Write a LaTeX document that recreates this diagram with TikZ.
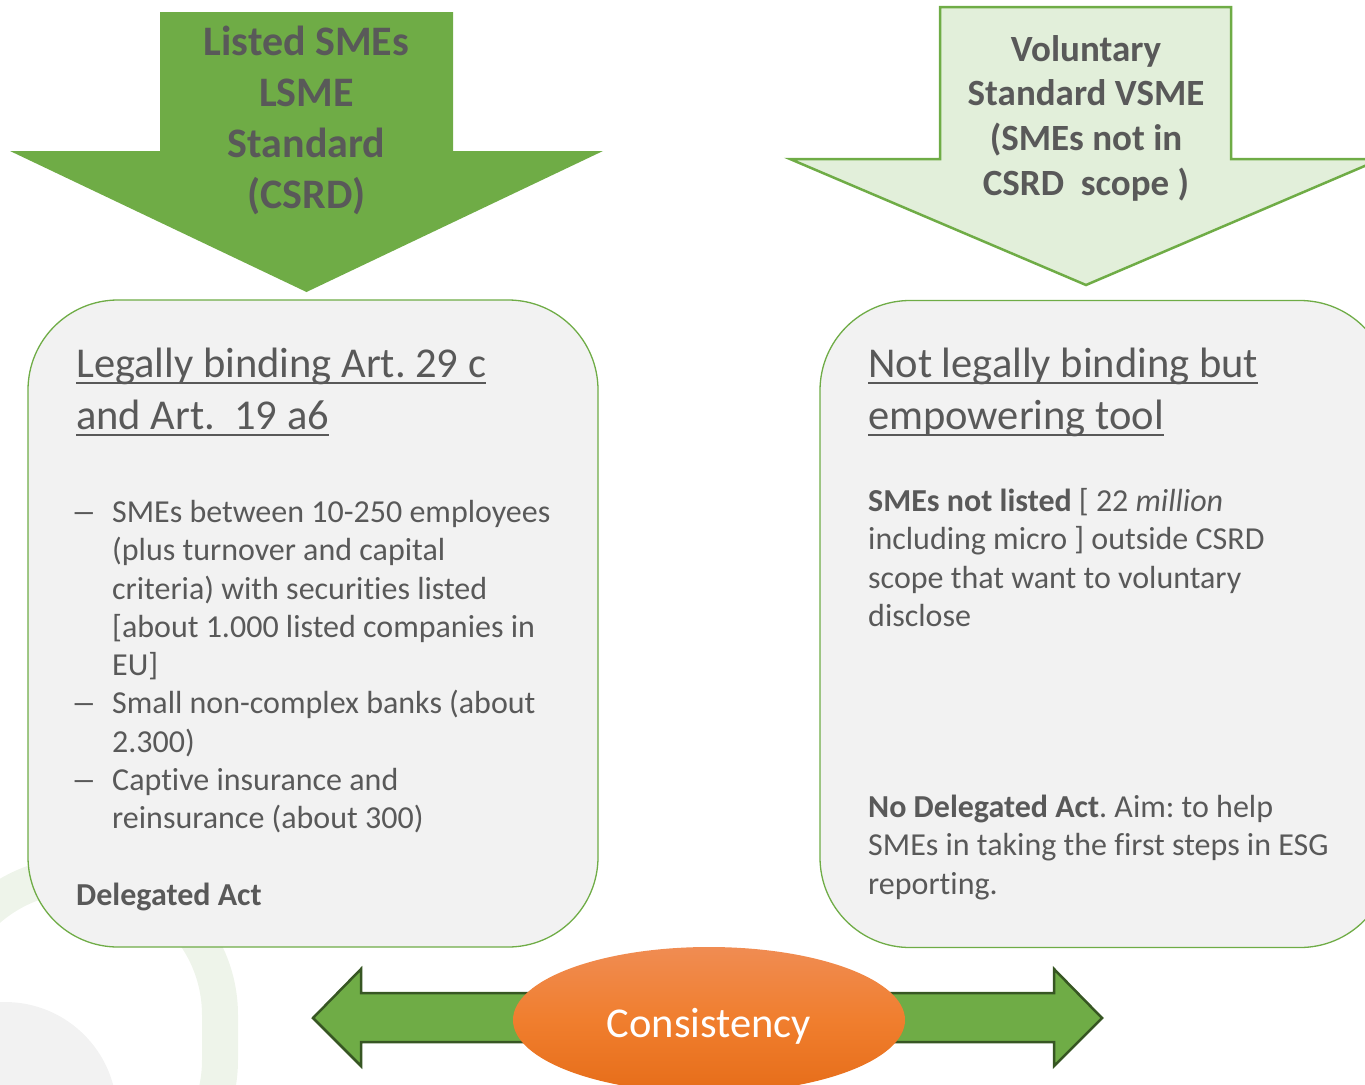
\documentclass[tikz,border=0pt]{standalone}
\usepackage{fontspec}
\setmainfont{Carlito}[Ligatures={NoCommon}]
\usetikzlibrary{shapes.geometric}
\definecolor{txt}{HTML}{595959}
\definecolor{grn}{HTML}{6FAC46}
\definecolor{dgrn}{HTML}{375623}
\definecolor{lgrn}{HTML}{E2EFDA}
\definecolor{boxfill}{HTML}{F2F2F2}
\definecolor{band}{HTML}{EEF4EA}
\definecolor{ortop}{HTML}{F08C52}
\definecolor{ormid}{HTML}{F07E2E}
\definecolor{orbot}{HTML}{E66D19}
\frenchspacing
\begin{document}
\begin{tikzpicture}[x=1pt,y=-1pt,
  body/.style={font=\fontsize{32}{38}\selectfont, text=txt, inner sep=0pt, anchor=base west},
  head/.style={font=\fontsize{42.5}{50}\selectfont, text=txt, inner sep=0pt, anchor=base west},
  toptxt/.style={font=\fontsize{42}{50}\bfseries\selectfont, text=txt, inner sep=0pt, anchor=base},
  vtxt/.style={font=\fontsize{37}{45}\bfseries\selectfont, text=txt, inner sep=0pt, anchor=base},
  ul/.style={txt, line width=2pt},
  panel/.style={draw=grn, fill=boxfill, line width=1.3pt, rounded corners=90pt, minimum width=570pt, minimum height=647pt, inner sep=0pt}]
\useasboundingbox (0,0) rectangle (1365,1084);
\clip (0,0) rectangle (1365,1084);
% background decorations
\fill[boxfill] (5,1114) circle (112pt);
\draw[band, line width=36pt, rounded corners=140pt] (-60,1300) -- (-60,875) -- (220,875) -- (220,1200) -- (-60,1200) -- cycle;
% top arrows
\fill[grn] (160,12) -- (453,12) -- (453,151) -- (603,151) -- (306.5,292) -- (10,151) -- (160,151) -- cycle;
\filldraw[fill=lgrn, draw=grn, line width=2.5pt] (940,7) -- (1231,7) -- (1231,159) -- (1381,159) -- (1086,285) -- (790,159) -- (940,159) -- cycle;
\node[toptxt] (t1) at (306.5,55) {Listed SMEs};
\node[toptxt] (t2) at (306.5,106) {LSME};
\node[toptxt] (t3) at (306.5,157) {Standard};
\node[toptxt] (t4) at (306.5,208) {(CSRD)};
\node[vtxt] (v1) at (1086,61) {Voluntary};
\node[vtxt] (v2) at (1086,105) {Standard VSME};
\node[vtxt] (v3) at (1086,150) {(SMEs not in};
\node[vtxt] (v4) at (1086,195) {CSRD\ \ scope )};
% panels
\node[panel] (lbox) at (313,623.5) {};
\node[panel] (rbox) at (1105,624) {};
% left panel text
\node[head] (lh1) at (76,377) {Legally binding Art. 29 c};
\node[head] (lh2) at (76,429) {and Art.\ \ 19 a6};
\draw[ul] ([yshift=-6pt]lh1.base west) -- ([yshift=-6pt]lh1.base east);
\draw[ul] ([yshift=-6pt]lh2.base west) -- ([yshift=-6pt]lh2.base east);
\node[body] (d1) at (71,522) {\scalebox{1.6}[1]{–}};
\node[body] (d2) at (71,713) {\scalebox{1.6}[1]{–}};
\node[body] (d3) at (71,790) {\scalebox{1.6}[1]{–}};
\node[body] (l1) at (112,522) {SMEs between 10-250 employees};
\node[body] (l2) at (112,560.5) {(plus turnover and capital};
\node[body] (l3) at (112,599) {criteria) with securities listed};
\node[body] (l4) at (112,637) {[about 1.000 listed companies in};
\node[body] (l5) at (112,675) {EU]};
\node[body] (l6) at (112,713) {Small non-complex banks (about};
\node[body] (l7) at (112,752) {2.300)};
\node[body] (l8) at (112,790) {Captive insurance and};
\node[body] (l9) at (112,828) {reinsurance (about 300)};
\node[body, font=\fontsize{32}{38}\bfseries\selectfont] (lda) at (76,905) {Delegated Act};
% right panel text
\node[head] (rh1) at (868,377) {Not legally binding but};
\node[head] (rh2) at (868,429) {empowering tool};
\draw[ul] ([yshift=-6pt]rh1.base west) -- ([yshift=-6pt]rh1.base east);
\draw[ul] ([yshift=-6pt]rh2.base west) -- ([yshift=-6pt]rh2.base east);
\node[body] (r1) at (868,511) {\textbf{SMEs not listed} [ 22 \textit{million}};
\node[body] (r2) at (868,549.5) {including micro ] outside CSRD};
\node[body] (r3) at (868,588) {scope that want to voluntary};
\node[body] (r4) at (868,626) {disclose};
\node[body] (r5) at (868,817) {\textbf{No Delegated Act}. Aim: to help};
\node[body] (r6) at (868,855.5) {SMEs in taking the first steps in ESG};
\node[body] (r7) at (868,894) {reporting.};
% bottom double arrow
\filldraw[fill=grn, draw=dgrn, line width=2.5pt] (313,1018) -- (361,969) -- (361,993) -- (1054,993) -- (1054,969) -- (1102,1018) -- (1054,1066) -- (1054,1042) -- (361,1042) -- (361,1066) -- cycle;
\node[ellipse, minimum width=392pt, minimum height=146pt, inner sep=0pt, top color=ortop, bottom color=orbot, middle color=ormid] (cons) at (709,1020) {};
\node[font=\fontsize{42.5}{50}\selectfont, text=white, inner sep=0pt, anchor=base] (ctext) at (709,1037) {Consistency};
\end{tikzpicture}
\end{document}
